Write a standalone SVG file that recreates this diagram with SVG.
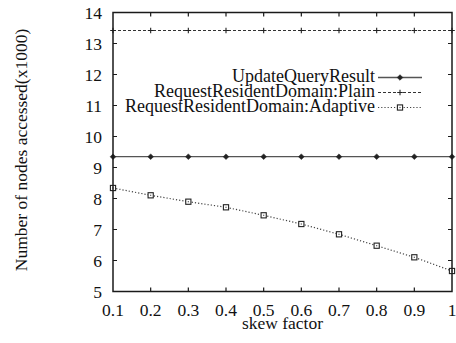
<svg xmlns="http://www.w3.org/2000/svg" width="456" height="343" viewBox="0 0 456 343" font-family="'Liberation Serif', 'DejaVu Serif', serif">
  <style>
    text { fill: #111; }
    .tick { font-size: 17.5px; }
    .ylab { text-anchor: end; }
    .xlab { text-anchor: middle; }
    .key { font-size: 18px; text-anchor: end; }
    .title { font-size: 17.5px; text-anchor: middle; }
    .frame { fill: none; stroke: #1a1a1a; stroke-width: 1.5; }
    .tk { stroke: #1a1a1a; stroke-width: 1.2; }
    .s-update { fill: none; stroke: #555; stroke-width: 1.3; }
    .s-plain { fill: none; stroke: #333; stroke-width: 1; stroke-dasharray: 3 2; }
    .s-adapt { fill: none; stroke: #444; stroke-width: 1.2; stroke-dasharray: 1.2 2; }
  </style>
  <defs>
    <path id="pt-diamond" d="M0,-2.8 L2.8,0 L0,2.8 L-2.8,0 Z" fill="#222" stroke="#222" stroke-width="0.6"/>
    <path id="pt-plus" d="M-2.8,0 H2.8 M0,-2.8 V2.8" stroke="#222" stroke-width="1.1" fill="none"/>
    <g id="pt-square">
      <rect x="-2.6" y="-2.6" width="5.2" height="5.2" fill="#fff" stroke="#222" stroke-width="1.1"/>
      <rect x="-0.6" y="-0.6" width="1.2" height="1.2" fill="#555"/>
    </g>
  </defs>

  <!-- axis titles -->
  <text class="title" font-family="'Liberation Serif', 'DejaVu Serif', serif" transform="translate(27,150) rotate(-90)">Number of nodes accessed(x1000)</text>
  <text class="title" font-family="'Liberation Serif', 'DejaVu Serif', serif" x="282.5" y="329">skew factor</text>

  <!-- y tick labels -->
  <g class="tick ylab" font-family="'Liberation Serif', 'DejaVu Serif', serif">
    <text x="102" y="18.5">14</text>
    <text x="102" y="49.5">13</text>
    <text x="102" y="80.5">12</text>
    <text x="102" y="111.5">11</text>
    <text x="102" y="142.5">10</text>
    <text x="102" y="173.5">9</text>
    <text x="102" y="204.5">8</text>
    <text x="102" y="235.5">7</text>
    <text x="102" y="266.5">6</text>
    <text x="102" y="297.5">5</text>
  </g>

  <!-- x tick labels -->
  <g class="tick xlab" font-family="'Liberation Serif', 'DejaVu Serif', serif">
    <text x="113" y="316">0.1</text>
    <text x="150.67" y="316">0.2</text>
    <text x="188.33" y="316">0.3</text>
    <text x="226" y="316">0.4</text>
    <text x="263.67" y="316">0.5</text>
    <text x="301.33" y="316">0.6</text>
    <text x="339" y="316">0.7</text>
    <text x="376.67" y="316">0.8</text>
    <text x="414.33" y="316">0.9</text>
    <text x="452" y="316">1</text>
  </g>

  <!-- tick marks on all four sides -->
  <g class="tk">
    <path d="M113,43.5h4M113,74.5h4M113,105.5h4M113,136.5h4M113,167.5h4M113,198.5h4M113,229.5h4M113,260.5h4"/>
    <path d="M452,43.5h-4M452,74.5h-4M452,105.5h-4M452,136.5h-4M452,167.5h-4M452,198.5h-4M452,229.5h-4M452,260.5h-4"/>
    <path d="M150.67,291.5v-4M188.33,291.5v-4M226,291.5v-4M263.67,291.5v-4M301.33,291.5v-4M339,291.5v-4M376.67,291.5v-4M414.33,291.5v-4"/>
    <path d="M150.67,12.5v4M188.33,12.5v4M226,12.5v4M263.67,12.5v4M301.33,12.5v4M339,12.5v4M376.67,12.5v4M414.33,12.5v4"/>
  </g>

  <!-- legend -->
  <g id="legend" font-family="'Liberation Serif', 'DejaVu Serif', serif">
    <text class="key" x="375" y="82">UpdateQueryResult</text>
    <text class="key" x="375" y="97">RequestResidentDomain:Plain</text>
    <text class="key" x="375" y="112">RequestResidentDomain:Adaptive</text>
    <path class="s-update" d="M378,77.5H422"/>
    <use href="#pt-diamond" x="400" y="77.5"/>
    <path class="s-plain" d="M378,92.5H422"/>
    <use href="#pt-plus" x="400" y="92.5"/>
    <path class="s-adapt" d="M378,107.5H422"/>
    <use href="#pt-square" x="400" y="107.5"/>
  </g>

  <!-- data series -->
  <g id="series-plain">
    <path class="s-plain" d="M113,30.5H452"/>
    <use href="#pt-plus" x="113" y="30.5"/>
    <use href="#pt-plus" x="150.67" y="30.5"/>
    <use href="#pt-plus" x="188.33" y="30.5"/>
    <use href="#pt-plus" x="226" y="30.5"/>
    <use href="#pt-plus" x="263.67" y="30.5"/>
    <use href="#pt-plus" x="301.33" y="30.5"/>
    <use href="#pt-plus" x="339" y="30.5"/>
    <use href="#pt-plus" x="376.67" y="30.5"/>
    <use href="#pt-plus" x="414.33" y="30.5"/>
    <use href="#pt-plus" x="452" y="30.5"/>
  </g>
  <g id="series-update">
    <path class="s-update" d="M113,156.7H452"/>
    <use href="#pt-diamond" x="113" y="156.7"/>
    <use href="#pt-diamond" x="150.67" y="156.7"/>
    <use href="#pt-diamond" x="188.33" y="156.7"/>
    <use href="#pt-diamond" x="226" y="156.7"/>
    <use href="#pt-diamond" x="263.67" y="156.7"/>
    <use href="#pt-diamond" x="301.33" y="156.7"/>
    <use href="#pt-diamond" x="339" y="156.7"/>
    <use href="#pt-diamond" x="376.67" y="156.7"/>
    <use href="#pt-diamond" x="414.33" y="156.7"/>
    <use href="#pt-diamond" x="452" y="156.7"/>
  </g>
  <g id="series-adaptive">
    <path class="s-adapt" d="M113,188 L150.67,195.3 L188.33,201.7 L226,207.3 L263.67,215.3 L301.33,224 L339,234.3 L376.67,245.7 L414.33,257.3 L452,271"/>
    <use href="#pt-square" x="113" y="188"/>
    <use href="#pt-square" x="150.67" y="195.3"/>
    <use href="#pt-square" x="188.33" y="201.7"/>
    <use href="#pt-square" x="226" y="207.3"/>
    <use href="#pt-square" x="263.67" y="215.3"/>
    <use href="#pt-square" x="301.33" y="224"/>
    <use href="#pt-square" x="339" y="234.3"/>
    <use href="#pt-square" x="376.67" y="245.7"/>
    <use href="#pt-square" x="414.33" y="257.3"/>
    <use href="#pt-square" x="452" y="271"/>
  </g>

  <!-- plot frame -->
  <rect class="frame" x="113" y="12.5" width="339" height="279"/>
</svg>
